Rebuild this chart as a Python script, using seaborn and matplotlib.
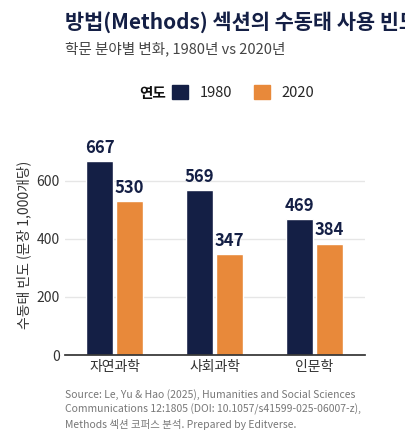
import pandas as pd
import seaborn as sns
import matplotlib.pyplot as plt

fields = ['자연과학', '사회과학', '인문학']
years = ['1980', '2020']
v1980 = [667, 569, 469]
v2020 = [530, 347, 384]

df = pd.DataFrame({
    'field': fields * 2,
    'year': [years[0]] * 3 + [years[1]] * 3,
    'value': v1980 + v2020,
})

sns.set_theme(style='whitegrid')
plt.rcParams['font.family'] = ['Noto Sans CJK KR', 'DejaVu Sans']

fig = plt.figure(figsize=(4.05, 4.41), dpi=100)
ax = fig.add_axes([0.16, 0.195, 0.74, 0.5])
palette = {'1980': '#141f45', '2020': '#e8893a'}
sns.barplot(data=df, x='field', y='value', hue='year', palette=palette,
            saturation=1, gap=0.1, width=0.6, ax=ax, legend=False)

for cont in ax.containers:
    ax.bar_label(cont, padding=3, fontsize=12, fontweight='bold', color='#141f45')

ax.set_ylim(0, 760)
ax.set_yticks([0, 200, 400, 600])
ax.set_xlabel('')
ax.set_ylabel('수동태 빈도 (문장 1,000개당)', fontsize=10, color='#333333')
ax.tick_params(axis='both', labelsize=10, colors='#333333', length=0)
ax.grid(axis='x', visible=False)
ax.grid(axis='y', color='#e6e6e6')
for s in ['top', 'right', 'left']:
    ax.spines[s].set_visible(False)
ax.spines['bottom'].set_color('#333333')

fig.text(0.16, 0.935, '방법(Methods) 섹션의 수동태 사용 빈도', fontsize=15,
         fontweight='bold', color='#141f45')
fig.text(0.16, 0.88, '학문 분야별 변화, 1980년 vs 2020년', fontsize=10.5, color='#444444')

fig.text(0.345, 0.79, '연도', fontsize=10.5, fontweight='bold', va='center', color='#111111')
handles = [plt.Rectangle((0, 0), 1, 1, color=palette[y]) for y in years]
fig.legend(handles, years, loc='center left', bbox_to_anchor=(0.425, 0.79), ncol=2,
           frameon=False, fontsize=10.5, handlelength=1.1, handleheight=1.1,
           columnspacing=1.5, borderpad=0, borderaxespad=0)

fig.text(0.16, 0.03, 'Source: Le, Yu & Hao (2025), Humanities and Social Sciences\n'
         'Communications 12:1805 (DOI: 10.1057/s41599-025-06007-z),\n'
         'Methods 섹션 코퍼스 분석. Prepared by Editverse.',
         fontsize=7.5, color='#777777', linespacing=1.4)

fig.savefig('out.png', dpi=100)
